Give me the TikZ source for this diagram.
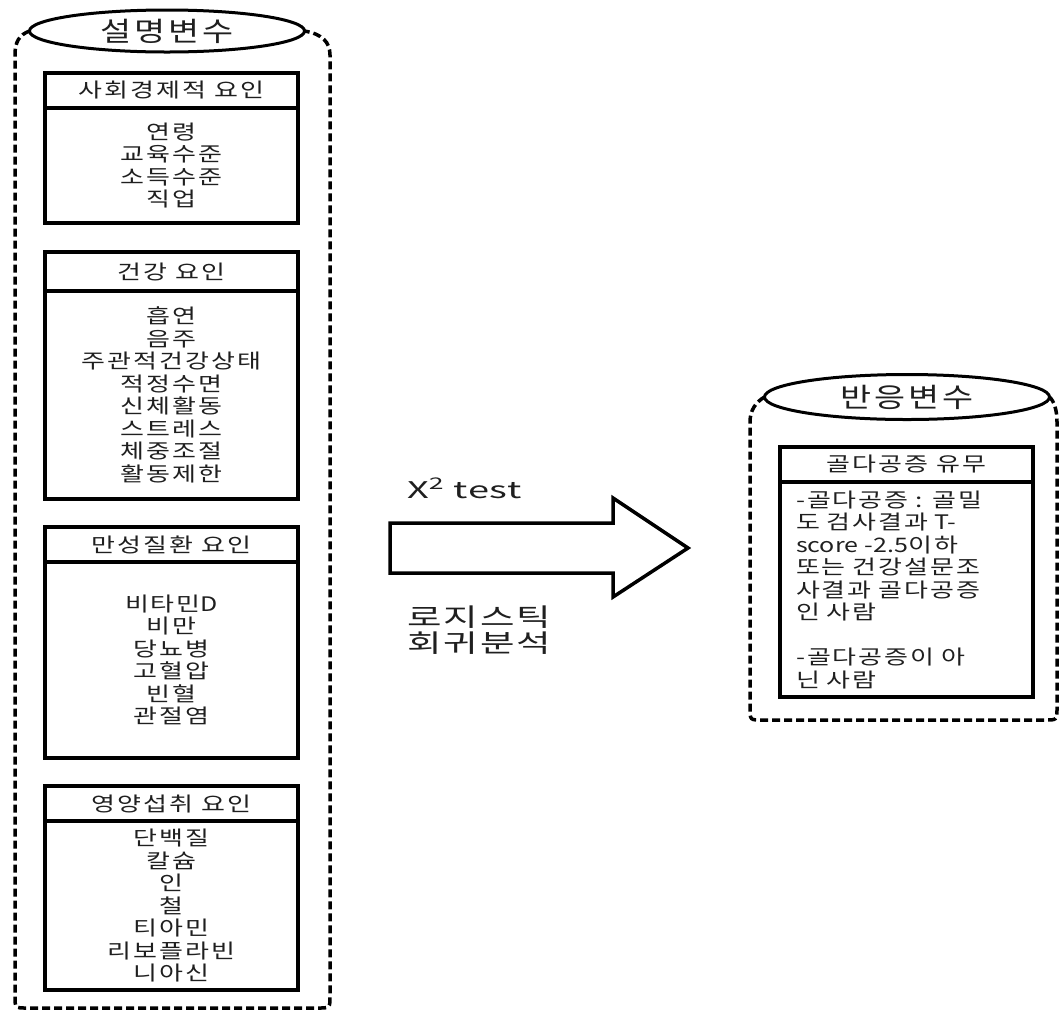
\documentclass[tikz,border=0pt]{standalone}
\usepackage{fontspec}
\setmainfont{Noto Sans CJK KR}[FakeStretch=1.3,LetterSpace=10]
\newfontfamily\latf{Noto Sans CJK KR}[FakeStretch=1.25]
\newfontfamily\bigf{Noto Sans CJK KR}[FakeStretch=1.25,LetterSpace=10]
\newfontfamily\hugef{Noto Sans CJK KR}[FakeStretch=1.5,LetterSpace=8]
\newfontfamily\chif{Noto Sans CJK KR}[FakeStretch=1.65,LetterSpace=4]
\usetikzlibrary{shapes.geometric}
\tikzset{
  dashbox/.style={line width=3.5pt, dash pattern=on 8pt off 4pt, line cap=butt},
  ovalhead/.style={ellipse, draw, line width=3pt, inner sep=0pt, outer sep=0pt, text=black!88,
    font=\bigf\fontsize{27}{27}\selectfont},
  hdr/.style={rectangle, draw, line width=3.5pt, minimum width=253pt, inner sep=0pt, outer sep=0pt,
    anchor=north, text=black!88, font=\fontsize{20}{22.5}\selectfont},
  bodybox/.style={rectangle, draw, line width=3.5pt, minimum width=253pt, inner sep=0pt, outer sep=0pt,
    anchor=north, align=center, text=black!88, font=\fontsize{20}{22.5}\selectfont},
  blockarrow/.style={line width=3.5pt, line join=miter},
  lbl/.style={anchor=west, inner sep=0pt, text=black!88}
}
\begin{document}
\begin{tikzpicture}[x=1pt,y=-1pt]
\useasboundingbox (0,0) rectangle (1062,1013);

% ---- left container: explanatory variables
\node[ovalhead, minimum width=275pt, minimum height=42pt] (lhead) at (167,31) {설명변수};
\draw[dashbox] (lhead.west) .. controls (19,35) and (15,42) .. (15,55)
  -- (15,996) .. controls (15,1008) .. (27,1008)
  -- (318,1008) .. controls (330,1008) .. (330,996)
  -- (330,55) .. controls (330,42) and (322,34) .. (lhead.east);

\node[hdr, minimum height=35pt] (h1) at (171.5,73) {사회경제적 요인};
\node[bodybox, minimum height=115pt] (b1) at (h1.south) {연령\\교육수준\\소득수준\\직업};

\node[hdr, minimum height=39pt] (h2) at (171.5,252) {건강 요인};
\node[bodybox, minimum height=208pt] (b2) at (h2.south)
  {흡연\\음주\\주관적건강상태\\적정수면\\신체활동\\스트레스\\체중조절\\활동제한};

\node[hdr, minimum height=35pt] (h3) at (171.5,527) {만성질환 요인};
\node[bodybox, minimum height=196pt] (b3) at (h3.south)
  {비타민{\latf D}\\비만\\당뇨병\\고혈압\\빈혈\\관절염};

\node[hdr, minimum height=35pt] (h4) at (171.5,786) {영양섭취 요인};
\node[bodybox, minimum height=169pt] (b4) at (h4.south)
  {단백질\\칼슘\\인\\철\\티아민\\리보플라빈\\니아신};

% ---- arrow and method labels
\draw[blockarrow] (390,523) -- (613,523) -- (613,498) -- (688,548) -- (613,597)
  -- (613,573) -- (390,573) -- cycle;
\node[lbl, font=\chif\fontsize{23}{23}\selectfont] (chi) at (407,488)
  {X\textsuperscript{2}\hspace{0.4em}test};
\node[lbl, align=left, font=\hugef\fontsize{25}{25.5}\selectfont] (logit) at (407,630)
  {로지스틱\\회귀분석};

% ---- right container: response variable
\node[ovalhead, minimum width=285pt, minimum height=45pt] (rhead) at (907,397) {반응변수};
\draw[dashbox] (rhead.west) .. controls (756,402) and (750,410) .. (750,422)
  -- (750,708) .. controls (750,720) .. (762,720)
  -- (1045,720) .. controls (1057,720) .. (1057,708)
  -- (1057,422) .. controls (1057,410) and (1054,401) .. (rhead.east);

\node[hdr, minimum height=35pt] (h5) at (906.5,447) {골다공증 유무};
\node[bodybox, minimum height=215pt, align=left, text width=221pt, inner xsep=16pt] (b5) at (h5.south)
  {-골다공증 : 골밀\\도 검사결과 {\latf T-}\\{\latf score -2.5}이하\\또는 건강설문조\\사결과 골다공증\\인 사람\\[22.5pt]-골다공증이 아\\닌 사람};
\end{tikzpicture}
\end{document}
